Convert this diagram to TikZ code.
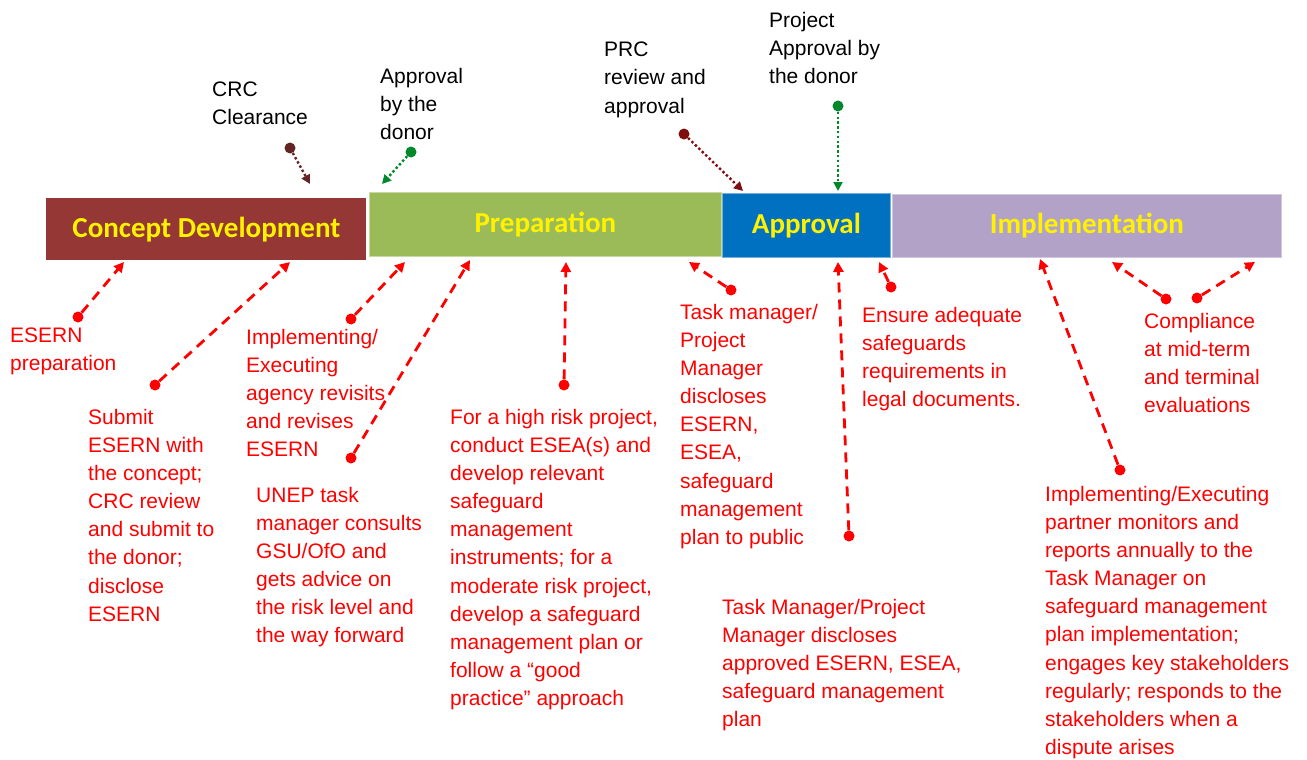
\documentclass[tikz,border=0pt]{standalone}
\usepackage{fontspec}
\setmainfont{Liberation Sans}
\newfontfamily\headfont{Carlito}
\usetikzlibrary{arrows.meta}
\definecolor{conceptred}{HTML}{953735}
\definecolor{prepgreen}{HTML}{9BBB59}
\definecolor{approvalblue}{HTML}{0070C0}
\definecolor{implpurple}{HTML}{B2A2C7}
\definecolor{crcbrown}{HTML}{632523}
\definecolor{prcred}{HTML}{7F0F0F}
\definecolor{donorgreen}{HTML}{00882A}
\tikzstyle{phase} = [rectangle, anchor=north west, inner sep=0, line width=0.8pt, text=yellow, font=\headfont\bfseries\fontsize{29}{32}\selectfont]
\tikzstyle{toplabel} = [anchor=north west, inner sep=0, align=left, text=black, font=\fontsize{21}{28.1}\selectfont]
\tikzstyle{note} = [anchor=north west, inner sep=0, align=left, text=red, font=\fontsize{21}{28.1}\selectfont]
\tikzstyle{dot} = [circle, inner sep=0, minimum size=11pt]
\tikzstyle{redarrow} = [line width=2.8pt, red, dash pattern=on 10pt off 7pt, ->, >={Triangle[length=10pt,width=10pt]}]
\tikzstyle{toparrow} = [line width=2.4pt, dash pattern=on 2.4pt off 2.4pt, ->, >={Triangle[length=9pt,width=9pt]}]

\begin{document}
\begin{tikzpicture}[x=1pt, y=-1pt]
\useasboundingbox (0,0) rectangle (1307,760);
% phases
\node (concept)[phase, fill=conceptred, minimum width=320, minimum height=62] at (46,198) {Concept Development};
\node (prep)[phase, fill=prepgreen, draw=prepgreen!55!white, minimum width=352, minimum height=64] at (369,192) {\raisebox{2pt}{Preparation}};
\node (approval)[phase, fill=approvalblue, draw=approvalblue!55!white, minimum width=168, minimum height=64] at (722,193) {Approval};
\node (impl)[phase, fill=implpurple, draw=implpurple!60!white, minimum width=389, minimum height=63] at (892,194) {Implementation};

% labels above
\node (crc)[toplabel] at (212,82) {CRC\\Clearance};
\node (donorA)[toplabel] at (380,68) {Approval\\by the\\donor};
\node (prc)[toplabel] at (604,42) {PRC\\review and\\approval};
\node (donorB)[toplabel] at (769,12) {Project\\Approval by\\the donor};

\node (crcdot)[dot, fill=crcbrown] at (290,148) {};
\node (donorAdot)[dot, fill=donorgreen] at (411,152) {};
\node (prcdot)[dot, fill=prcred] at (684,134) {};
\node (donorBdot)[dot, fill=donorgreen] at (838,106) {};
\coordinate (crcend) at (310,184);
\coordinate (donorAend) at (382,184);
\coordinate (prcend) at (743,191);
\coordinate (donorBend) at (838,191);
\draw [toparrow, crcbrown](crcdot) -- (crcend);
\draw [toparrow, donorgreen](donorAdot) -- (donorAend);
\draw [toparrow, prcred](prcdot) -- (prcend);
\draw [toparrow, donorgreen](donorBdot) -- (donorBend);

% notes below
\node (esern)[note] at (10,328) {ESERN\\preparation};
\node (submit)[note] at (88,409) {Submit\\ESERN with\\the concept;\\CRC review\\and submit to\\the donor;\\disclose\\ESERN};
\node (revise)[note] at (246,329) {Implementing/\\Executing\\agency revisits\\and revises\\ESERN};
\node (consult)[note] at (256,487) {UNEP task\\manager consults\\GSU/OfO and\\gets advice on\\the risk level and\\the way forward};
\node (highrisk)[note] at (450,409) {For a high risk project,\\conduct ESEA(s) and\\develop relevant\\safeguard\\management\\instruments; for a\\moderate risk project,\\develop a safeguard\\management plan or\\follow a “good\\practice” approach};
\node (public)[note] at (680,304) {Task manager/\\Project\\Manager\\discloses\\ESERN,\\ESEA,\\safeguard\\management\\plan to public};
\node (approved)[note] at (722,599) {Task Manager/Project\\Manager discloses\\approved ESERN, ESEA,\\safeguard management\\plan};
\node (legal)[note] at (862,307) {Ensure adequate\\safeguards\\requirements in\\legal documents.};
\node (monitor)[note] at (1045,486) {Implementing/Executing\\partner monitors and\\reports annually to the\\Task Manager on\\safeguard management\\plan implementation;\\engages key stakeholders\\regularly; responds to the\\stakeholders when a\\dispute arises};
\node (evaluate)[note] at (1144,313) {Compliance\\at mid-term\\and terminal\\evaluations};

\node (eserndot)[dot, fill=red] at (78,317) {};
\node (submitdot)[dot, fill=red] at (155,385) {};
\node (revisedot)[dot, fill=red] at (351,319) {};
\node (consultdot)[dot, fill=red] at (351,458) {};
\node (highriskdot)[dot, fill=red] at (564,385) {};
\node (publicdot)[dot, fill=red] at (731,290) {};
\node (approveddot)[dot, fill=red] at (849,536) {};
\node (legaldot)[dot, fill=red] at (891,287) {};
\node (monitordot)[dot, fill=red] at (1120,470) {};
\node (midtermdot)[dot, fill=red] at (1166,299) {};
\node (terminaldot)[dot, fill=red] at (1197,298) {};
\coordinate (esernend) at (124,262);
\coordinate (submitend) at (290,262);
\coordinate (reviseend) at (405,262);
\coordinate (consultend) at (470,260);
\coordinate (highriskend) at (566,262);
\coordinate (publicend) at (689,262);
\coordinate (approvedend) at (838,262);
\coordinate (legalend) at (879,262);
\coordinate (monitorend) at (1040,259);
\coordinate (midtermend) at (1112,262);
\coordinate (terminalend) at (1255,262);
\draw [redarrow](eserndot) -- (esernend);
\draw [redarrow](submitdot) -- (submitend);
\draw [redarrow](revisedot) -- (reviseend);
\draw [redarrow](consultdot) -- (consultend);
\draw [redarrow](highriskdot) -- (highriskend);
\draw [redarrow](publicdot) -- (publicend);
\draw [redarrow](approveddot) -- (approvedend);
\draw [redarrow](legaldot) -- (legalend);
\draw [redarrow](monitordot) -- (monitorend);
\draw [redarrow](midtermdot) -- (midtermend);
\draw [redarrow](terminaldot) -- (terminalend);
\end{tikzpicture}
\end{document}
